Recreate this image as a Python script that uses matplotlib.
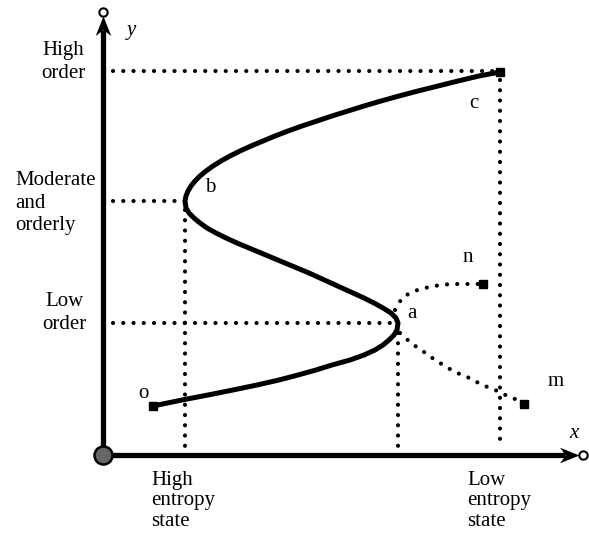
import numpy as np
import matplotlib.pyplot as plt

plt.rcParams['font.family'] = ['Liberation Serif', 'DejaVu Serif']

# everything in picture pixels (y grows downwards)
x0, y0 = 103, 455          # origin

# S-shaped curve, read from o through a and b to c
curve_x = [153, 182, 208, 233, 257, 279, 298, 316, 332, 350, 364, 375, 383, 389, 394, 397, 398,
           396, 391, 383, 374, 364, 353, 342, 331, 320, 309, 297, 285, 273, 261, 249, 237, 226,
           216, 207, 200, 194, 189, 186, 185,
           186, 188, 191, 195, 200, 206, 213, 221, 230, 240, 251, 263, 275, 288, 302, 317, 332,
           348, 364, 381, 399, 418, 438, 458, 479, 500]
curve_y = [406, 400, 395, 390, 385, 380, 375, 370, 365, 360, 355, 350, 345, 340, 335, 330, 323,
           318, 313, 308, 303, 298, 293, 288, 283, 278, 273, 268, 263, 258, 253, 248, 243, 238,
           233, 228, 223, 218, 213, 208, 201,
           196, 191, 186, 181, 176, 171, 166, 161, 156, 151, 146, 141, 136, 131, 126, 121, 116,
           111, 106, 101, 96, 91, 86, 81, 76, 72]

# dotted branches leaving point a
n_x = [395, 402, 410, 420, 430, 440, 452, 462, 472, 483]
n_y = [310, 298, 293, 289, 287, 285, 284, 284, 284, 284]
m_x = [400, 410, 418, 427, 435, 445, 453, 462, 472, 480, 490, 500, 509, 518, 524]
m_y = [333, 342, 348, 354, 360, 366, 371, 375, 379, 384, 388, 392, 397, 400, 404]

# guide levels
level_y = [71, 201, 323]
level_x = [500, 185, 398]

ends_x = [153, 500, 483, 524]
ends_y = [406, 72, 284, 404]

fig = plt.figure(figsize=(5.89, 5.33), dpi=100)
ax = fig.add_axes([0, 0, 1, 1])
ax.set_xlim(0, 589)
ax.set_ylim(533, 0)
ax.axis('off')

dot = dict(color='k', lw=3.0, linestyle=(0, (0.01, 2.45)), dash_capstyle='round')

for ly, lx in zip(level_y, level_x):
    ax.plot([x0 + 10, lx], [ly, ly], **dot)
ax.plot([500, 500], [80, y0 - 6], **dot)
ax.plot([185, 185], [210, y0 - 6], **dot)
ax.plot([398, 398], [333, y0 - 6], **dot)
ax.plot(n_x, n_y, **dot)
ax.plot(m_x, m_y, **dot)

ax.plot(curve_x, curve_y, color='k', lw=3.6, solid_joinstyle='round', solid_capstyle='butt')
ax.plot(ends_x, ends_y, 's', color='k', ms=6)

# axes with arrows
ax.plot([x0, x0], [y0, 30], color='k', lw=3.8, solid_capstyle='butt')
ax.plot([x0, 565], [y0, y0], color='k', lw=3.8, solid_capstyle='butt')
head = [(0, 0), (-0.4, -1.0), (0, -0.7), (0.4, -1.0), (0, 0)]
ax.plot(x0, 16, marker=head, ms=28, color='k', mew=0)
head_r = [(0, 0), (-1.0, 0.4), (-0.7, 0), (-1.0, -0.4), (0, 0)]
ax.plot(579, y0, marker=head_r, ms=28, color='k', mew=0)
ax.plot(x0, 12, 'o', ms=6, mfc='white', mec='k', mew=1.5)
ax.plot(583, y0, 'o', ms=6, mfc='white', mec='k', mew=1.5)
ax.plot(x0, y0, 'o', ms=13, mfc='#666666', mec='k', mew=1.8, zorder=5)

fs = 15
ax.text(131, 30, 'y', fontsize=fs, style='italic', ha='center', va='center')
ax.text(574, 433, 'x', fontsize=fs, style='italic', ha='center', va='center')
ax.text(143, 394, 'o', fontsize=fs, ha='center', va='center')
ax.text(412, 314, 'a', fontsize=fs, ha='center', va='center')
ax.text(210, 187, 'b', fontsize=fs, ha='center', va='center')
ax.text(474, 104, 'c', fontsize=fs, ha='center', va='center')
ax.text(468, 258, 'n', fontsize=fs, ha='center', va='center')
ax.text(556, 382, 'm', fontsize=fs, ha='center', va='center')

ax.text(63, 62, 'High\norder', fontsize=fs, ha='center', va='center', multialignment='center', linespacing=1.25)
ax.text(15, 203, 'Moderate\nand\norderly', fontsize=fs, ha='left', va='center', linespacing=1.25)
ax.text(64, 313, 'Low\norder', fontsize=fs, ha='center', va='center', multialignment='center', linespacing=1.25)
ax.text(151, 501, 'High\nentropy\nstate', fontsize=fs, ha='left', va='center', linespacing=1.1)
ax.text(467, 501, 'Low\nentropy\nstate', fontsize=fs, ha='left', va='center', linespacing=1.1)

fig.savefig('out.png', dpi=100)
